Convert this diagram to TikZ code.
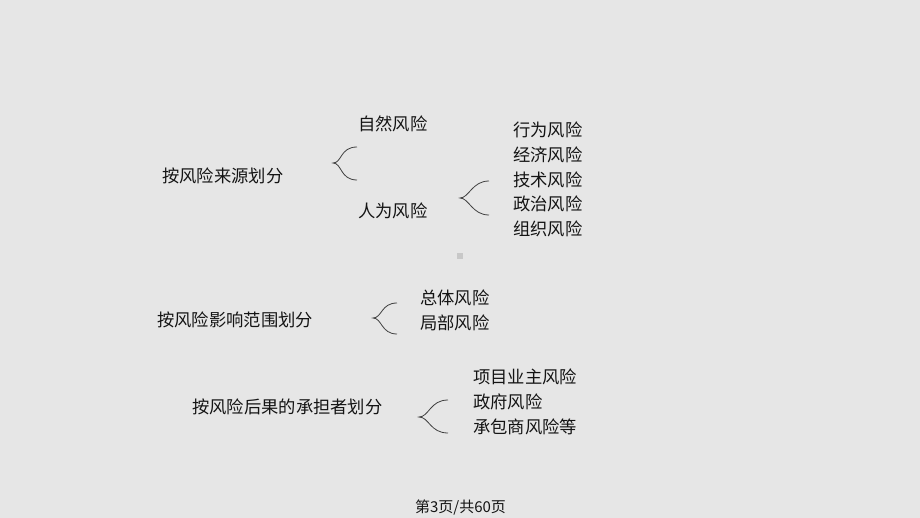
\documentclass[tikz,border=0pt]{standalone}
\usepackage{fontspec}
\setmainfont{Noto Sans CJK SC}
\definecolor{bg}{RGB}{230,230,230}
\definecolor{txt}{RGB}{20,20,20}
\definecolor{dot}{RGB}{200,200,200}
\begin{document}
\begin{tikzpicture}[x=1pt,y=-1pt,
  lbl/.style={anchor=west,inner sep=0pt,text=txt,font=\fontsize{17.3pt}{20pt}\selectfont},
  brc/.style={draw=black!75,line width=0.8pt}]
\fill[bg] (0,0) rectangle (920,518);
\useasboundingbox (0,0) rectangle (920,518);
% group 1
\node[lbl] (src) at (162,176) {按风险来源划分};
\node[lbl] (nat) at (358,124) {自然风险};
\node[lbl] (hum) at (358,211) {人为风险};
\node[lbl] (h1) at (513,130) {行为风险};
\node[lbl] (h2) at (513,155) {经济风险};
\node[lbl] (h3) at (513,180) {技术风险};
\node[lbl] (h4) at (513,204) {政治风险};
\node[lbl] (h5) at (513,229) {组织风险};
\draw[brc] (357,147) .. controls (340,147) and (342,163) .. (333,163) .. controls (342,163) and (340,180) .. (357,180);
\draw[brc] (489,181) .. controls (472,181) and (469,198) .. (460,198) .. controls (469,198) and (472,215) .. (489,215);
\fill[dot] (457,253) rectangle (463,259);
% group 2
\node[lbl] (scope) at (157,320) {按风险影响范围划分};
\node[lbl] (s1) at (420,298) {总体风险};
\node[lbl] (s2) at (420,323) {局部风险};
\draw[brc] (397,303) .. controls (381,303) and (382,318) .. (373,318) .. controls (382,318) and (381,334) .. (397,334);
% group 3
\node[lbl] (bear) at (192,407) {按风险后果的承担者划分};
\node[lbl] (b1) at (473,377) {项目业主风险};
\node[lbl] (b2) at (473,402) {政府风险};
\node[lbl] (b3) at (473,427) {承包商风险等};
\draw[brc] (448,400) .. controls (430,400) and (429,417) .. (419,417) .. controls (429,417) and (430,433) .. (448,433);
% footer
\node[anchor=center,inner sep=0pt,text=txt,font=\fontsize{15pt}{18pt}\selectfont] (foot) at (460.5,508) {第3页/共60页};
\end{tikzpicture}
\end{document}
